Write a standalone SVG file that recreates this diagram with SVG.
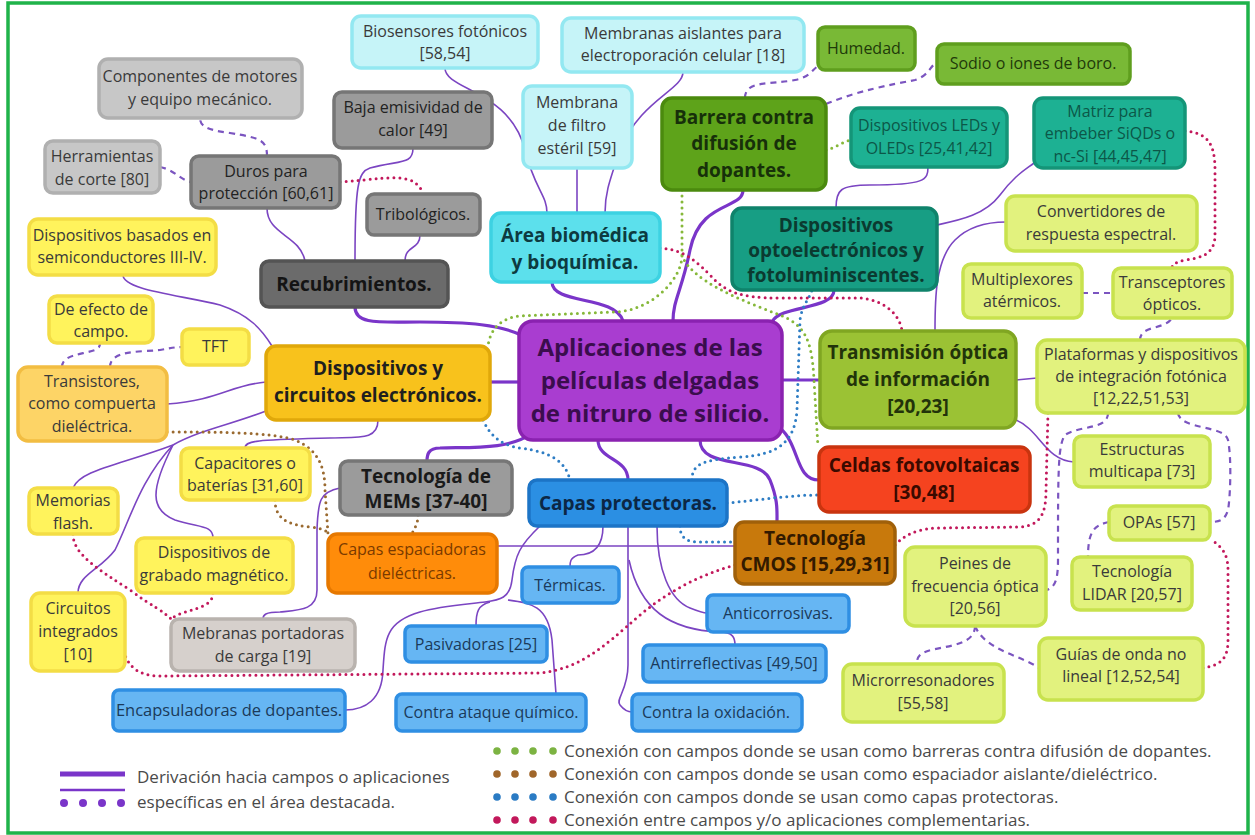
<svg xmlns="http://www.w3.org/2000/svg" width="1255" height="835" viewBox="0 0 1255 835">
<style>
text{font-family:"Open Sans","Noto Sans","DejaVu Sans",sans-serif;text-anchor:middle;font-size:16px;fill:#3a3a3a}
.b{font-weight:bold;font-size:19px;fill:#1f1f1f}
.c{font-weight:bold;font-size:24px;fill:#3a0d4d}
rect{stroke-width:3.5}
.lc{fill:#c6f4f8;stroke:#93e8f1}
.cy{fill:#5ce0ec;stroke:#3dd2e2}
.lg{fill:#c7c7c7;stroke:#b0b0b0}
.gy{fill:#9b9b9b;stroke:#767676}
.dg{fill:#6b6b6b;stroke:#545454}
.gr{fill:#5ea31a;stroke:#4b8a0e}
.g2{fill:#79b936;stroke:#5f9e1e}
.te{fill:#1db193;stroke:#149578}
.to{fill:#179e84;stroke:#0f836b}
.li{fill:#e2f27e;stroke:#c8e24e}
.ol{fill:#9bc234;stroke:#80a622}
.rd{fill:#f5431f;stroke:#c9340f}
.ye{fill:#fff35c;stroke:#f3dd45}
.yo{fill:#fdd466;stroke:#f2bd42}
.go{fill:#f8c21c;stroke:#e0a80a}
.pu{fill:#a93dd0;stroke:#8a22b0}
.bl{fill:#2b8fe3;stroke:#1c74c6}
.lb{fill:#66b6f3;stroke:#2f8fe3}
.br{fill:#c8790c;stroke:#a0600a}
.or{fill:#ff8c0a;stroke:#e67800}
.pk{fill:#d6d0cc;stroke:#b9b3ae}
.th{fill:none;stroke:#7a35c9;stroke-width:3.2}
.tn{fill:none;stroke:#7b45c2;stroke-width:1.6}
.ds{fill:none;stroke:#7b55c0;stroke-width:2.2;stroke-dasharray:6 5}
.d{fill:none;stroke-width:3;stroke-linecap:round;stroke-dasharray:0 6}
.dgc{stroke:#86b83a}.dbc{stroke:#2e7dc4}.drc{stroke:#9a6a30}.dmc{stroke:#c2185b}
.lgt{font-size:17px;fill:#4a4a4a;text-anchor:start}
.lbt{fill:#1b3a5a}
</style>
<rect x="0" y="0" width="1255" height="835" fill="#ffffff" stroke="none"/>
<rect x="8" y="3" width="1240" height="830" fill="none" stroke="#1fb34a" stroke-width="3"/>

<g id="connectors">
<path class="th" d="M552,282 C552,305 615,295 623,321"/>
<path class="th" d="M743,190 C743,210 700,200 690,250 C682,290 673,300 673,321"/>
<path class="th" d="M834,290 C834,310 780,305 772,322"/>
<path class="th" d="M355,307 C355,325 380,322 420,322 C470,322 500,325 521,335"/>
<path class="th" d="M490,382 L519,382"/>
<path class="th" d="M532,433 C510,450 470,447 440,448 C428,448 427,455 427,461"/>
<path class="th" d="M598,440 C598,460 628,458 628,480"/>
<path class="th" d="M700,440 C700,470 760,455 770,480 C778,500 777,510 777,522"/>
<path class="th" d="M780,428 C800,445 795,480 819,480"/>
<path class="th" d="M782,380 L820,380"/>

<path class="tn" d="M445,68 C445,90 510,90 525,150 C535,190 547,195 547,213"/>
<path class="tn" d="M577,168 L577,213"/>
<path class="tn" d="M683,72 C683,90 640,100 620,150 C608,185 605,195 605,213"/>
<path class="tn" d="M836,208 C836,190 840,185 870,185 C925,185 928,180 928,167"/>
<path class="tn" d="M937,225 C960,220 985,215 1000,195 C1015,175 1025,170 1034,163"/>
<path class="tn" d="M935,331 C935,300 935,260 955,240 C970,225 990,222 1006,222"/>
<path class="tn" d="M1016,380 L1037,378"/>
<path class="tn" d="M1016,420 C1040,430 1045,460 1074,462"/>
<path class="tn" d="M267,208 C267,235 300,235 305,261"/>
<path class="tn" d="M413,148 C413,165 400,160 370,168 C358,172 355,185 355,261"/>
<path class="tn" d="M420,235 C420,250 405,245 405,261"/>
<path class="tn" d="M123,275 C123,290 180,295 220,305 C250,315 262,330 272,346"/>
<path class="tn" d="M266,382 C230,385 220,400 167,404"/>
<path class="tn" d="M266,411 C230,425 200,430 173,445"/>
<path class="tn" d="M173,445 C120,465 80,470 73,488"/>
<path class="tn" d="M173,445 C140,480 130,520 115,550 C100,570 78,575 78,593"/>
<path class="tn" d="M173,445 C150,490 150,510 175,520 C200,528 213,525 213,538"/>
<path class="tn" d="M378,420 C378,440 360,437 330,438 C260,440 245,440 245,448"/>
<path class="tn" d="M340,488 C320,492 318,500 317,530 L317,590 C317,610 300,610 280,612 C265,612 263,615 263,619"/>
<path class="tn" d="M540,526 C520,545 515,555 512,580 C510,598 500,600 485,602 C470,604 440,606 420,612 C385,622 385,640 383,670 C382,700 365,710 345,710"/>
<path class="tn" d="M490,602 C478,605 476,612 476,626"/>
<path class="tn" d="M508,600 C530,603 548,605 552,640 L556,694"/>
<path class="tn" d="M603,526 C603,550 590,555 578,555 C570,558 570,562 570,567"/>
<path class="tn" d="M628,526 L628,665 C628,690 615,700 620,705 C624,710 628,712 632,712"/>
<path class="tn" d="M629,560 C640,610 670,630 720,632 C733,632 735,638 735,645"/>
<path class="tn" d="M657,526 C657,570 670,600 690,608 C700,612 705,613 707,613"/>
<path class="tn" d="M497,546 L735,546"/>

<path class="ds" d="M745,98 C745,80 770,85 795,80 C810,77 812,70 818,66"/>
<path class="ds" d="M826,104 C860,90 890,85 915,80 C930,75 930,65 937,63"/>
<path class="ds" d="M267,156 C267,140 260,138 230,133 C205,130 200,125 200,118"/>
<path class="ds" d="M160,167 C175,170 180,180 191,182"/>
<path class="ds" d="M62,367 C62,355 80,355 95,350 C100,348 100,345 100,343"/>
<path class="ds" d="M110,367 C110,350 140,352 160,350 C172,348 175,347 182,347"/>
<path class="ds" d="M1082,293 L1113,293"/>
<path class="ds" d="M1140,340 C1140,325 1165,330 1172,318"/>
<path class="ds" d="M1108,413 C1108,430 1080,425 1065,435 C1058,445 1058,470 1058,560 C1058,580 1055,588 1046,590"/>
<path class="ds" d="M1178,413 C1180,430 1225,425 1228,440 C1232,460 1230,500 1228,510 C1225,520 1220,522 1210,522"/>
<path class="ds" d="M1109,522 C1095,525 1088,530 1088,557"/>
<path class="ds" d="M975,626 C975,650 930,645 920,655 C917,658 917,661 917,664"/>
<path class="ds" d="M975,626 C985,650 1020,655 1039,668"/>

<path class="d dgc" d="M682,190 L682,255 C682,280 650,312 613,312 L520,316 C500,318 490,330 488,346"/>
<path class="d dgc" d="M682,255 C690,280 740,300 780,315 C805,325 812,340 814,380 L818,447"/>
<path class="d dgc" d="M826,150 C835,148 842,142 851,140"/>

<path class="d dbc" d="M483,420 C490,435 500,445 520,448 C550,452 565,460 570,480"/>
<path class="d dbc" d="M727,503 C760,500 790,495 819,495"/>
<path class="d dbc" d="M680,526 C680,540 690,542 700,542 L735,542"/>
<path class="d dbc" d="M692,480 C692,465 700,460 740,457 C780,455 795,440 797,410 L800,320 C802,305 810,298 812,290"/>

<path class="d drc" d="M167,432 C220,432 270,432 295,440 C320,450 325,470 325,490 L328,534"/>
<path class="d drc" d="M275,500 C275,520 290,525 310,527 C320,528 325,530 330,534"/>
<path class="d drc" d="M418,515 C418,525 414,528 412,534"/>

<path class="d dmc" d="M340,182 C370,180 395,175 410,180 C420,185 422,190 422,194"/>
<path class="d dmc" d="M660,248 C680,250 690,255 710,275 C725,292 740,298 780,298 L860,298 C885,300 900,315 902,331"/>
<path class="d dmc" d="M1185,131 C1205,133 1215,140 1215,170 L1215,235 C1215,255 1200,258 1185,260 C1175,262 1172,265 1172,268"/>
<path class="d dmc" d="M895,545 C905,535 915,530 935,528 L1020,527 C1040,525 1046,515 1046,490 L1048,413"/>
<path class="d dmc" d="M1203,668 C1220,665 1228,660 1228,640 L1228,570 C1228,550 1218,545 1212,540"/>
<path class="d dmc" d="M735,565 C700,575 670,590 640,615 C600,650 580,668 540,673 L160,676 C140,676 130,668 125,655"/>
<path class="d dmc" d="M73,534 C73,555 100,570 130,590 C150,605 165,612 171,619"/>
<path class="d dmc" d="M213,593 C213,610 185,608 171,619"/>
</g>

<g id="bio1"><rect class="lc" x="352" y="16" width="186" height="52" rx="9"/><text x="445" y="37">Biosensores fotónicos</text><text x="445" y="59">[58,54]</text></g>
<g id="bio2"><rect class="lc" x="562" y="18" width="242" height="54" rx="9"/><text x="683" y="39">Membranas aislantes para</text><text x="683" y="61">electroporación celular [18]</text></g>
<g id="bio3"><rect class="lc" x="523" y="86" width="109" height="82" rx="9"/><text x="577" y="108">Membrana</text><text x="577" y="131">de filtro</text><text x="577" y="154">estéril [59]</text></g>
<g id="hum"><rect class="g2" x="818" y="27" width="97" height="43" rx="7"/><text x="866" y="54" style="fill:#1f3a0a">Humedad.</text></g>
<g id="sod"><rect class="g2" x="937" y="44" width="193" height="40" rx="7"/><text x="1033" y="69" style="fill:#1f3a0a">Sodio o iones de boro.</text></g>
<g id="comp"><rect class="lg" x="99" y="59" width="203" height="59" rx="9"/><text x="200" y="82">Componentes de motores</text><text x="200" y="105">y equipo mecánico.</text></g>
<g id="baja"><rect class="gy" x="334" y="92" width="158" height="56" rx="8"/><text x="413" y="113" style="fill:#222">Baja emisividad de</text><text x="413" y="136" style="fill:#222">calor [49]</text></g>
<g id="barr"><rect class="gr" x="662" y="98" width="164" height="92" rx="10"/><text class="b" x="744" y="124" style="fill:#17300a">Barrera contra</text><text class="b" x="744" y="150" style="fill:#17300a">difusión de</text><text class="b" x="744" y="177" style="fill:#17300a">dopantes.</text></g>
<g id="led"><rect class="te" x="851" y="108" width="156" height="59" rx="9"/><text x="929" y="131" style="fill:#0c5748">Dispositivos LEDs y</text><text x="929" y="154" style="fill:#0c5748">OLEDs [25,41,42]</text></g>
<g id="matriz"><rect class="te" x="1034" y="98" width="151" height="70" rx="9"/><text x="1110" y="117" style="fill:#0c5748">Matriz para</text><text x="1110" y="139" style="fill:#0c5748">embeber SiQDs o</text><text x="1110" y="162" style="fill:#0c5748">nc-Si [44,45,47]</text></g>
<g id="herr"><rect class="lg" x="45" y="141" width="115" height="52" rx="8"/><text x="102" y="162">Herramientas</text><text x="102" y="185">de corte [80]</text></g>
<g id="duros"><rect class="gy" x="191" y="156" width="149" height="52" rx="8"/><text x="266" y="177" style="fill:#222">Duros para</text><text x="266" y="199" style="fill:#222">protección [60,61]</text></g>
<g id="trib"><rect class="gy" x="367" y="194" width="113" height="41" rx="7"/><text x="423" y="220" style="fill:#222">Tribológicos.</text></g>
<g id="semi"><rect class="ye" x="29" y="219" width="187" height="56" rx="9"/><text x="122" y="241">Dispositivos basados en</text><text x="122" y="263">semiconductores III-IV.</text></g>
<g id="area"><rect class="cy" x="491" y="213" width="169" height="69" rx="10"/><text class="b" x="575" y="242" style="fill:#0d3a40">Área biomédica</text><text class="b" x="575" y="269" style="fill:#0d3a40">y bioquímica.</text></g>
<g id="opto"><rect class="to" x="732" y="208" width="205" height="82" rx="10"/><text class="b" x="836" y="232" style="fill:#0b3a30">Dispositivos</text><text class="b" x="836" y="257" style="fill:#0b3a30">optoelectrónicos y</text><text class="b" x="836" y="282" style="fill:#0b3a30">fotoluminiscentes.</text></g>
<g id="conv"><rect class="li" x="1006" y="196" width="191" height="55" rx="9"/><text x="1101" y="217">Convertidores de</text><text x="1101" y="240">respuesta espectral.</text></g>
<g id="recub"><rect class="dg" x="261" y="261" width="187" height="46" rx="8"/><text class="b" x="354" y="291" style="fill:#141414">Recubrimientos.</text></g>
<g id="mult"><rect class="li" x="963" y="264" width="119" height="54" rx="8"/><text x="1022" y="285">Multiplexores</text><text x="1022" y="307">atérmicos.</text></g>
<g id="trans"><rect class="li" x="1113" y="268" width="119" height="50" rx="8"/><text x="1172" y="288">Transceptores</text><text x="1172" y="310">ópticos.</text></g>
<g id="efec"><rect class="ye" x="49" y="296" width="104" height="47" rx="8"/><text x="101" y="315">De efecto de</text><text x="101" y="337">campo.</text></g>
<g id="tft"><rect class="ye" x="182" y="329" width="67" height="36" rx="7"/><text x="215" y="352">TFT</text></g>
<g id="trsis"><rect class="yo" x="18" y="367" width="149" height="74" rx="10"/><text x="92" y="387">Transistores,</text><text x="92" y="409">como compuerta</text><text x="92" y="432">dieléctrica.</text></g>
<g id="dispc"><rect class="go" x="266" y="346" width="224" height="74" rx="10"/><text class="b" x="378" y="375">Dispositivos y</text><text class="b" x="378" y="402">circuitos electrónicos.</text></g>
<g id="center"><rect class="pu" x="519" y="321" width="263" height="119" rx="14"/><text class="c" x="650" y="356">Aplicaciones de las</text><text class="c" x="650" y="389">películas delgadas</text><text class="c" x="650" y="422">de nitruro de silicio.</text></g>
<g id="transm"><rect class="ol" x="820" y="331" width="196" height="97" rx="12"/><text class="b" x="918" y="359" style="fill:#22330a">Transmisión óptica</text><text class="b" x="918" y="386" style="fill:#22330a">de información</text><text class="b" x="918" y="413" style="fill:#22330a">[20,23]</text></g>
<g id="plat"><rect class="li" x="1037" y="340" width="208" height="73" rx="10"/><text x="1141" y="360">Plataformas y dispositivos</text><text x="1141" y="382">de integración fotónica</text><text x="1141" y="404">[12,22,51,53]</text></g>
<g id="estr"><rect class="li" x="1074" y="436" width="136" height="51" rx="8"/><text x="1142" y="455">Estructuras</text><text x="1142" y="477">multicapa [73]</text></g>
<g id="celdas"><rect class="rd" x="819" y="447" width="211" height="65" rx="10"/><text class="b" x="924" y="472" style="fill:#3a0a00">Celdas fotovoltaicas</text><text class="b" x="924" y="499" style="fill:#3a0a00">[30,48]</text></g>
<g id="capac"><rect class="ye" x="181" y="448" width="129" height="52" rx="8"/><text x="245" y="469">Capacitores o</text><text x="245" y="491">baterías [31,60]</text></g>
<g id="mem"><rect class="ye" x="29" y="488" width="89" height="46" rx="8"/><text x="73" y="506">Memorias</text><text x="73" y="529">flash.</text></g>
<g id="mems"><rect class="gy" x="340" y="461" width="172" height="54" rx="8"/><text class="b" x="426" y="483" style="fill:#1a1a1a">Tecnología de</text><text class="b" x="426" y="508" style="fill:#1a1a1a">MEMs [37-40]</text></g>
<g id="capasp"><rect class="bl" x="529" y="480" width="198" height="46" rx="8"/><text class="b" x="628" y="510" style="fill:#0c2745">Capas protectoras.</text></g>
<g id="opas"><rect class="li" x="1109" y="506" width="101" height="34" rx="7"/><text x="1159" y="528">OPAs [57]</text></g>
<g id="cmos"><rect class="br" x="735" y="522" width="160" height="62" rx="9"/><text class="b" x="815" y="545" style="fill:#331a00">Tecnología</text><text class="b" x="815" y="571" style="fill:#331a00">CMOS [15,29,31]</text></g>
<g id="grab"><rect class="ye" x="136" y="538" width="157" height="55" rx="8"/><text x="214" y="558">Dispositivos de</text><text x="214" y="581">grabado magnético.</text></g>
<g id="espa"><rect class="or" x="328" y="534" width="169" height="59" rx="9"/><text x="412" y="555" style="fill:#7a3a00">Capas espaciadoras</text><text x="412" y="579" style="fill:#7a3a00">dieléctricas.</text></g>
<g id="peines"><rect class="li" x="905" y="547" width="141" height="79" rx="10"/><text x="975" y="569">Peines de</text><text x="975" y="592">frecuencia óptica</text><text x="975" y="614">[20,56]</text></g>
<g id="lidar"><rect class="li" x="1072" y="557" width="120" height="53" rx="8"/><text x="1132" y="577">Tecnología</text><text x="1132" y="600">LIDAR [20,57]</text></g>
<g id="circ"><rect class="ye" x="31" y="593" width="94" height="78" rx="9"/><text x="78" y="614">Circuitos</text><text x="78" y="637">integrados</text><text x="78" y="660">[10]</text></g>
<g id="term"><rect class="lb" x="522" y="567" width="97" height="36" rx="6"/><text class="lbt" x="570" y="591">Térmicas.</text></g>
<g id="anti"><rect class="lb" x="707" y="595" width="142" height="37" rx="6"/><text class="lbt" x="778" y="619">Anticorrosivas.</text></g>
<g id="mebr"><rect class="pk" x="171" y="619" width="184" height="52" rx="8"/><text x="263" y="639">Mebranas portadoras</text><text x="263" y="662">de carga [19]</text></g>
<g id="pasiv"><rect class="lb" x="405" y="626" width="142" height="36" rx="6"/><text class="lbt" x="476" y="650">Pasivadoras [25]</text></g>
<g id="antir"><rect class="lb" x="643" y="645" width="183" height="37" rx="6"/><text class="lbt" x="734" y="669">Antirreflectivas [49,50]</text></g>
<g id="micro"><rect class="li" x="843" y="664" width="161" height="58" rx="9"/><text x="923" y="686">Microrresonadores</text><text x="923" y="709">[55,58]</text></g>
<g id="guias"><rect class="li" x="1039" y="638" width="164" height="62" rx="9"/><text x="1121" y="660">Guías de onda no</text><text x="1121" y="682">lineal [12,52,54]</text></g>
<g id="encap"><rect class="lb" x="113" y="690" width="232" height="41" rx="6"/><text class="lbt" x="229" y="716" style="font-size:16.5px">Encapsuladoras de dopantes.</text></g>
<g id="ataq"><rect class="lb" x="396" y="694" width="190" height="37" rx="6"/><text class="lbt" x="491" y="718">Contra ataque químico.</text></g>
<g id="oxid"><rect class="lb" x="632" y="694" width="170" height="37" rx="6"/><text class="lbt" x="716" y="718">Contra la oxidación.</text></g>

<g id="legend">
<line x1="60" y1="774" x2="125" y2="774" stroke="#7a35c9" stroke-width="5"/>
<line x1="60" y1="790" x2="125" y2="790" stroke="#7a35c9" stroke-width="2.5"/>
<g fill="#7a35c9"><circle cx="64" cy="803" r="4"/><circle cx="83" cy="803" r="4"/><circle cx="102" cy="803" r="4"/><circle cx="121" cy="803" r="4"/></g>
<text class="lgt" x="137" y="783">Derivación hacia campos o aplicaciones</text>
<text class="lgt" x="137" y="808">específicas en el área destacada.</text>
<g fill="#7cb342"><circle cx="497" cy="751" r="3.8"/><circle cx="515" cy="751" r="3.8"/><circle cx="533" cy="751" r="3.8"/><circle cx="553" cy="751" r="3.8"/></g>
<g fill="#a0662a"><circle cx="497" cy="774" r="3.8"/><circle cx="515" cy="774" r="3.8"/><circle cx="533" cy="774" r="3.8"/><circle cx="553" cy="774" r="3.8"/></g>
<g fill="#2a7bc4"><circle cx="497" cy="797" r="3.8"/><circle cx="515" cy="797" r="3.8"/><circle cx="533" cy="797" r="3.8"/><circle cx="553" cy="797" r="3.8"/></g>
<g fill="#c2185b"><circle cx="497" cy="820" r="3.8"/><circle cx="515" cy="820" r="3.8"/><circle cx="533" cy="820" r="3.8"/><circle cx="553" cy="820" r="3.8"/></g>
<text class="lgt" x="564" y="757">Conexión con campos donde se usan como barreras contra difusión de dopantes.</text>
<text class="lgt" x="564" y="780">Conexión con campos donde se usan como espaciador aislante/dieléctrico.</text>
<text class="lgt" x="564" y="803">Conexión con campos donde se usan como capas protectoras.</text>
<text class="lgt" x="564" y="826">Conexión entre campos y/o aplicaciones complementarias.</text>
</g>
</svg>
